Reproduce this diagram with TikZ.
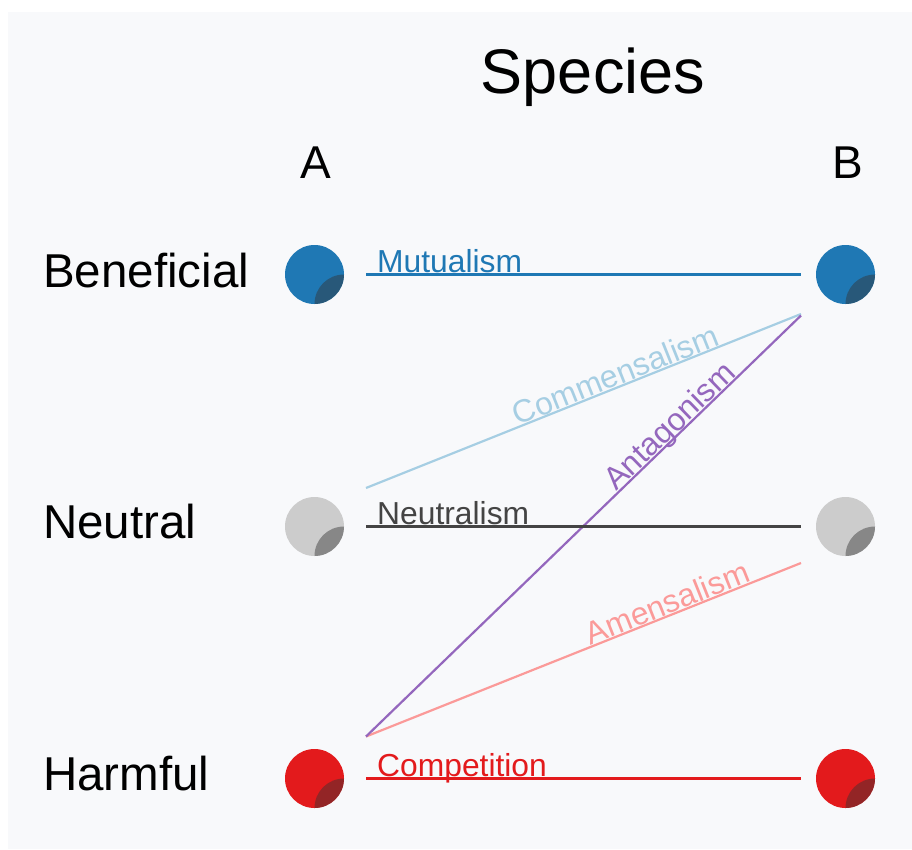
\documentclass[tikz,border=0pt]{standalone}
\usepackage{fontspec}
\setmainfont{Liberation Sans}
\usetikzlibrary{calc}
\definecolor{bgc}{HTML}{F8F9FB}
\definecolor{cben}{HTML}{1F78B4}
\definecolor{cneu}{HTML}{CCCCCC}
\definecolor{charm}{HTML}{E31A1C}
\definecolor{cmut}{HTML}{1F78B4}
\definecolor{ccom}{HTML}{A6CEE3}
\definecolor{cant}{HTML}{9467BD}
\definecolor{cntl}{HTML}{444444}
\definecolor{camen}{HTML}{FB9A99}
\definecolor{ccomp}{HTML}{E31A1C}
\definecolor{shadec}{HTML}{333333}
\tikzset{
  dot/.style={circle, fill=#1, minimum size=59pt, inner sep=0pt},
  rowlab/.style={anchor=base west, inner sep=0pt, font=\fontsize{47.5}{56}\selectfont},
  collab/.style={anchor=base, inner sep=0pt, font=\fontsize{46}{55}\selectfont},
  rel/.style={line width=2.2pt, draw=#1, text=#1},
  rellab/.style={font=\fontsize{31.8}{38}\selectfont, inner sep=0pt},
}
\newcommand{\shadedot}[1]{%
  \begin{scope}
    \clip (#1.center) circle (29.5pt);
    \fill[shadec, opacity=0.45] ($(#1.center)+(29.5,29.5)$) circle (29.5pt);
  \end{scope}}
\begin{document}
\begin{tikzpicture}[x=1pt, y=-1pt]
\useasboundingbox (0,0) rectangle (912,849);
\fill[white] (0,0) rectangle (912,849);
\fill[bgc] (8,12) rectangle (912,849);

% titles
\node[anchor=base, inner sep=0pt, font=\fontsize{63}{75}\selectfont] (title) at (593,93) {Species};
\node[collab] (colA) at (316,178) {A};
\node[collab] (colB) at (848,178) {B};

% row labels
\node[rowlab] (rben) at (43,287) {Beneficial};
\node[rowlab] (rneu) at (43,538) {Neutral};
\node[rowlab] (rharm) at (43,790) {Harmful};

% circles
\node[dot=cben] (Aben) at (314.5,274.5) {};
\node[dot=cben] (Bben) at (845.5,274.5) {};
\node[dot=cneu] (Aneu) at (314.5,526.5) {};
\node[dot=cneu] (Bneu) at (845.5,526.5) {};
\node[dot=charm] (Aharm) at (314.5,778.5) {};
\node[dot=charm] (Bharm) at (845.5,778.5) {};
\shadedot{Aben}\shadedot{Bben}\shadedot{Aneu}\shadedot{Bneu}\shadedot{Aharm}\shadedot{Bharm}

% connector end points
\coordinate (mutA) at (366,274.5);
\coordinate (mutB) at (801,274.5);
\coordinate (ntlA) at (366,526.5);
\coordinate (ntlB) at (801,526.5);
\coordinate (cmpA) at (366,778.5);
\coordinate (cmpB) at (801,778.5);
\coordinate (comA) at (366,488);
\coordinate (comB) at (801,314);
\coordinate (antA) at (366,736.5);
\coordinate (antB) at (801,315.5);
\coordinate (amnA) at (366,736.5);
\coordinate (amnB) at (801,563);

% connectors
\draw[rel=ccom] (comA) -- node[rellab, sloped, pos=0.584, anchor=base, yshift=1.5pt] {Commensalism} (comB);
\draw[rel=camen] (amnA) -- node[rellab, sloped, pos=0.703, anchor=base, yshift=1.5pt] {Amensalism} (amnB);
\draw[rel=cant] (antA) -- node[rellab, sloped, pos=0.717, anchor=base, yshift=1.5pt] {Antagonism} (antB);
\draw[rel=cmut] (mutA) -- (mutB);
\node[rellab, anchor=base west, text=cmut] (lmut) at (377,272.5) {Mutualism};
\draw[rel=cntl] (ntlA) -- (ntlB);
\node[rellab, anchor=base west, text=cntl] (lntl) at (377,524.5) {Neutralism};
\draw[rel=ccomp] (cmpA) -- (cmpB);
\node[rellab, anchor=base west, text=ccomp] (lcmp) at (377,776.5) {Competition};
\end{tikzpicture}
\end{document}
